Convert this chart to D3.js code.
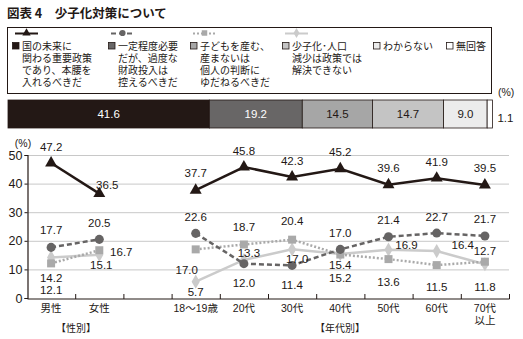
<!DOCTYPE html>
<html><head><meta charset="utf-8">
<script src="https://cdn.jsdelivr.net/npm/d3@7"></script>
<style>
html,body{margin:0;padding:0;background:#fff;}
svg{display:block;}
</style></head>
<body>
<svg id="c" width="523" height="339"></svg>
<script>
// ---- data ----
const title = "図表 4　少子化対策について";
const legendLabels = [
  ["国の未来に","関わる重要政策","であり、本腰を","入れるべきだ"],
  ["一定程度必要","だが、過度な","財政投入は","控えるべきだ"],
  ["子どもを産む、","産まないは","個人の判断に","ゆだねるべきだ"],
  ["少子化･人口","減少は政策では","解決できない"],
  ["わからない"],
  ["無回答"]
];
const overallValues = [41.6, 19.2, 14.5, 14.7, 9.0, 1.1];

const genderCats = ["男性","女性"];
const ageCats = ["18～19歳","20代","30代","40代","50代","60代","70代以上"];
const yTicks = [0,10,20,30,40,50];

const importantGender = [47.2, 36.5];
const importantAge    = [37.7, 45.8, 42.3, 45.2, 39.6, 41.9, 39.5];
const moderateGender  = [17.7, 20.5];
const moderateAge     = [22.6, 12.0, 11.4, 17.0, 21.4, 22.7, 21.7];
const individualGender= [12.1, 16.7];
const individualAge   = [17.0, 18.7, 20.4, 15.2, 13.6, 11.5, 12.7];
const policyGender    = [14.2, 15.1];
const policyAge       = [5.7, 13.3, 17.0, 15.4, 16.9, 16.4, 11.8];

// ---- layout/style config ----
const barColors = ["#231815","#686666","#a6a6a6","#c4c4c4","#ececec","#ffffff"];
const barTextColors = ["#fff","#fff","#231815","#231815","#231815","#231815"];
const series = [
  {g: importantGender, a: importantAge, color:"#231815", dash:null, marker:"triangle", msize:62,
   off:[[0,-16],[8,-9],[0,-17],[0,-16],[0,-16],[0,-17],[0,-17],[0,-16],[0,-17]]},
  {g: moderateGender, a: moderateAge, color:"#666464", dash:"5,3", marker:"circle", msize:64,
   off:[[0,-17],[0,-16],[0,-16],[0,19],[0,20],[0,-16],[0,-17],[0,-16],[0,-17]]},
  {g: individualGender, a: individualAge, color:"#a9a9a9", dash:"2,2", marker:"square", msize:64,
   off:[[0,27],[22,2],[-9,21],[0,-18],[0,-19],[0,23],[0,23],[0,22],[0,-11]]},
  {g: policyGender, a: policyAge, color:"#cbcbcb", dash:null, marker:"diamond", msize:58,
   off:[[0,21],[2,10],[0,10],[5,-7],[5,10],[0,11],[18,-5],[26,-6],[0,23]]}
];
const numFont = "'Liberation Sans', Arial, sans-serif";
const jpFont = "'Noto Sans CJK JP', sans-serif";
const mixFont = "'Liberation Sans', 'Noto Sans CJK JP', sans-serif";

const svg = d3.select("#c");

// title
svg.append("text").attr("x",7).attr("y",18).text(title)
  .attr("font-family",jpFont).attr("font-size",12.5).attr("font-weight","bold").attr("fill","#231815");

// legend box
svg.append("rect").attr("x",7.5).attr("y",27.5).attr("width",484).attr("height",66)
  .attr("fill","none").attr("stroke","#231815").attr("stroke-width",1);

const legX = [12, 108, 190, 282, 373, 446];
const shapes = {triangle:d3.symbolTriangle, circle:d3.symbolCircle, square:d3.symbolSquare, diamond:d3.symbolDiamond};
legendLabels.forEach((lines,i)=>{
  const x = legX[i];
  const g = svg.append("g");
  if (i < 4) {
    const s = series[i];
    g.append("line").attr("x1",x+3).attr("x2",x+26).attr("y1",33.5).attr("y2",33.5)
      .attr("stroke",s.color).attr("stroke-width",2).attr("stroke-dasharray",s.dash);
    g.append("path").attr("d",d3.symbol().type(shapes[s.marker]).size(30)()).attr("transform",`translate(${x+14.5},33)`)
      .attr("fill",s.color);
  }
  g.append("rect").attr("x",x+0.5).attr("y",42.5).attr("width",6.5).attr("height",6.5)
    .attr("fill",barColors[i]).attr("stroke","#231815").attr("stroke-width",0.8);
  const t = g.append("text").attr("font-family",mixFont).attr("font-size",10).attr("fill","#231815");
  lines.forEach((s,j)=>{
    t.append("tspan").attr("x",x+10).attr("y",49.5+j*12).text(s);
  });
});

// overall stacked bar
const xb = d3.scaleLinear().domain([0,100]).range([8,492]);
let cum = 0;
const barG = svg.append("g");
overallValues.forEach((v,i)=>{
  const x0 = xb(cum), x1 = xb(cum+v);
  barG.append("rect").attr("x",x0).attr("y",100).attr("width",x1-x0).attr("height",28)
    .attr("fill",barColors[i]).attr("stroke","#231815").attr("stroke-width",0.8);
  if (i < 5) {
    barG.append("text").attr("x",(x0+x1)/2).attr("y",114).attr("text-anchor","middle")
      .attr("dominant-baseline","central").attr("font-family",numFont).attr("font-size",11.5)
      .attr("fill",barTextColors[i]).text(v.toFixed(1));
  } else {
    barG.append("text").attr("x",x1+5).attr("y",118).attr("dominant-baseline","central")
      .attr("font-family",numFont).attr("font-size",11.5).attr("fill","#231815").text(v.toFixed(1));
  }
  cum += v;
});
svg.append("text").attr("x",498).attr("y",96).attr("font-family",numFont).attr("font-size",10.5)
  .attr("fill","#231815").text("(%)");

// main chart scales
const slots = [...genderCats, "_gap", ...ageCats];
const x = d3.scaleBand().domain(slots).range([27,509]).padding(0);
const y = d3.scaleLinear().domain([0,50]).range([298,155]);
const cx = c => x(c) + x.bandwidth()/2;

// gridlines
svg.append("g").selectAll("line").data(yTicks.filter(d=>d>0)).join("line")
  .attr("x1",27).attr("x2",509).attr("y1",d=>y(d)+0.5).attr("y2",d=>y(d)+0.5)
  .attr("stroke","#c8c8c8").attr("stroke-width",1);

// y axis
const yAxis = svg.append("g").attr("transform","translate(27.5,0)")
  .call(d3.axisLeft(y).tickValues(yTicks).tickSize(3).tickFormat(d3.format("d")));
yAxis.select(".domain").attr("stroke","#231815").attr("stroke-width",1.2);
yAxis.selectAll(".tick line").attr("stroke","#231815");
yAxis.selectAll(".tick text").attr("font-family",numFont).attr("font-size",12.5).attr("fill","#231815").attr("x",-5);
svg.append("text").attr("x",23).attr("y",143).attr("text-anchor","middle").attr("dominant-baseline","central")
  .attr("font-family",numFont).attr("font-size",10.5).attr("fill","#231815").text("(%)");

// x axis
const xAxis = svg.append("g").attr("transform","translate(0,298.5)")
  .call(d3.axisBottom(x).tickSize(0).tickFormat(d=> d==="_gap" ? "" : d));
xAxis.select(".domain").attr("stroke","#231815").attr("stroke-width",1.2);
xAxis.selectAll(".tick text").each(function(d){
  const t = d3.select(this);
  t.attr("font-family",mixFont).attr("font-size",10.5).attr("fill","#231815").attr("y",6);
  if (d === "70代以上") {
    t.text(null);
    t.append("tspan").attr("x",0).attr("dy","0.71em").text("70代");
    t.append("tspan").attr("x",0).attr("dy","1.15em").text("以上");
  }
});
// boundary ticks
svg.append("g").selectAll("line").data(slots.slice(1).map(s=>x(s)).concat([x.range()[1]])).join("line")
  .attr("x1",d=>d+0.5).attr("x2",d=>d+0.5).attr("y1",294).attr("y2",299)
  .attr("stroke","#231815").attr("stroke-width",1);

svg.append("text").attr("x",76).attr("y",327).attr("text-anchor","middle").attr("dominant-baseline","central")
  .attr("font-family",jpFont).attr("font-size",10).attr("fill","#231815").text("【性別】");
svg.append("text").attr("x",340).attr("y",327).attr("text-anchor","middle").attr("dominant-baseline","central")
  .attr("font-family",jpFont).attr("font-size",10).attr("fill","#231815").text("【年代別】");

// series lines & markers (draw lightest first)
const line = d3.line().x(d=>cx(d.c)).y(d=>y(d.v));
const order = [3,2,1,0];
order.forEach(si=>{
  const s = series[si];
  const gPts = genderCats.map((c,i)=>({c, v:s.g[i]}));
  const aPts = ageCats.map((c,i)=>({c, v:s.a[i]}));
  [gPts,aPts].forEach(pts=>{
    svg.append("path").attr("d",line(pts)).attr("fill","none").attr("stroke",s.color)
      .attr("stroke-width",2.5).attr("stroke-dasharray",s.dash);
  });
  const sym = d3.symbol().type(shapes[s.marker]).size(s.msize);
  gPts.concat(aPts).forEach(p=>{
    svg.append("path").attr("d",sym()).attr("fill",s.color)
      .attr("transform",`translate(${cx(p.c)},${y(p.v)})`);
  });
});
// labels
series.forEach(s=>{
  const pts = genderCats.map((c,i)=>({c, v:s.g[i]})).concat(ageCats.map((c,i)=>({c, v:s.a[i]})));
  pts.forEach((p,i)=>{
    svg.append("text").attr("x",cx(p.c)+s.off[i][0]).attr("y",y(p.v)+s.off[i][1])
      .attr("text-anchor","middle").attr("dominant-baseline","central")
      .attr("font-family",numFont).attr("font-size",11.5).attr("fill","#231815")
      .text(p.v.toFixed(1));
  });
});
</script>
</body></html>
